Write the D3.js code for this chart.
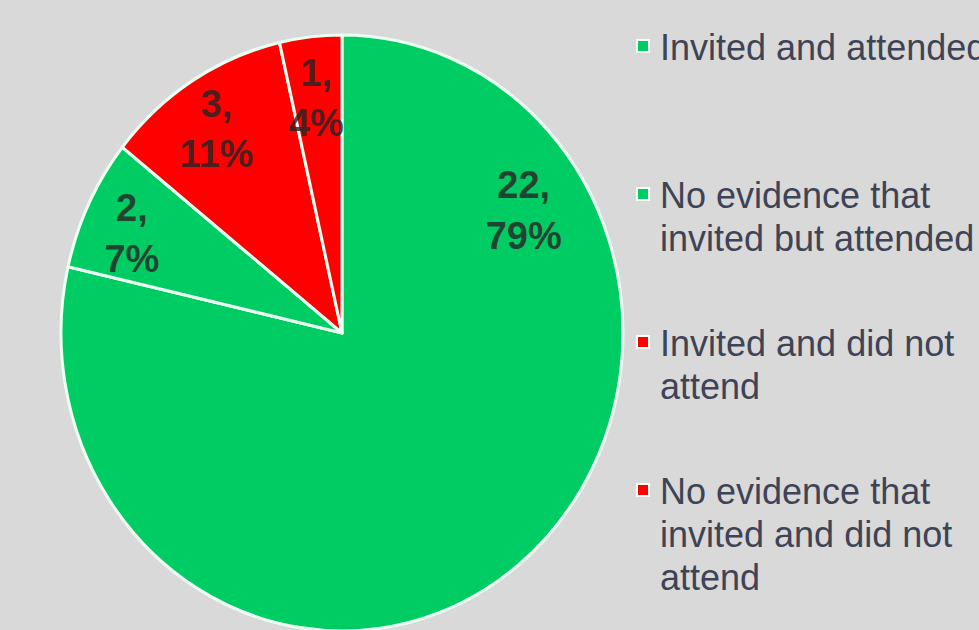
<!DOCTYPE html>
<html>
<head>
<meta charset="utf-8">
<script src="https://cdn.jsdelivr.net/npm/d3@7"></script>
<style>
    html, body { margin: 0; padding: 0; background: #d9d9d9; overflow: hidden; }
    svg { display: block; }
</style>
</head>
<body>
<div class="chart"></div>
<script>
// 数据
const categories = [
    'Invited and attended',
    'No evidence that invited but attended',
    'Invited and did not attend',
    'No evidence that invited and did not attend'
]
const values = [22, 2, 3, 1]
const percents = ['79%', '7%', '11%', '4%']
// 图例换行
const legendLines = [
    ['Invited and attended'],
    ['No evidence that', 'invited but attended'],
    ['Invited and did not', 'attend'],
    ['No evidence that', 'invited and did not', 'attend']
]
const colors = ['#00cc64', '#00cc64', '#ff0000', '#ff0000']

const W = 979, H = 630
const cx = 342, cy = 333
const rx = 281, ry = 298 // 饼图被拉伸成椭圆

// 标签位置: 大扇区单独指定角度
const labelAt = [[56, 0.78], null, null, null]
const labelR = [0.78, 0.83, 0.84, 0.82]

const svg = d3.select('.chart')
    .append('svg')
    .attr('width', W)
    .attr('height', H)

svg.append('rect')
    .attr('width', W)
    .attr('height', H)
    .attr('fill', '#d9d9d9')

const pie = d3.pie().sort(null).value(d => d)
const arcs = pie(values)

const arc = d3.arc().innerRadius(0).outerRadius(rx)

const g = svg.append('g')
    .attr('transform', `translate(${cx}, ${cy}) scale(1, ${ry / rx})`)

g.selectAll('path')
    .data(arcs)
    .enter()
    .append('path')
    .attr('d', arc)
    .attr('fill', (d, i) => colors[i])
    .attr('stroke', '#eafff2')
    .attr('stroke-width', 3)
    .attr('stroke-linejoin', 'round')

// 注记
const labels = svg.append('g')
    .attr('transform', `translate(${cx}, ${cy})`)

arcs.forEach((d, i) => {
    let a = (d.startAngle + d.endAngle) / 2
    let k = labelR[i]
    if (labelAt[i]) {
        a = labelAt[i][0] * Math.PI / 180
        k = labelAt[i][1]
    }
    const x = Math.sin(a) * rx * k
    const y = -Math.cos(a) * ry * k
    const t = labels.append('text')
        .attr('x', x)
        .attr('y', y)
        .attr('text-anchor', 'middle')
        .attr('font-family', 'Liberation Sans, Arial, sans-serif')
        .attr('font-weight', 'bold')
        .attr('font-size', '38px')
        .attr('fill', '#262626')
        .attr('fill-opacity', 0.82)
    t.append('tspan').attr('x', x).attr('dy', '-0.12em').text(d.value + ',')
    t.append('tspan').attr('x', x).attr('dy', '1.33em').text(percents[i])
})

// 图例
const legend = svg.append('g')
    .attr('transform', 'translate(637, 0)')

legendLines.forEach((lines, i) => {
    const base = 60 + i * 148
    legend.append('rect')
        .attr('x', 0)
        .attr('y', base - 20)
        .attr('width', 12)
        .attr('height', 12)
        .attr('fill', colors[i])
        .attr('stroke', '#f4fff8')
        .attr('stroke-width', 2)
    const t = legend.append('text')
        .attr('x', 23)
        .attr('y', base)
        .attr('font-family', 'Liberation Sans, Arial, sans-serif')
        .attr('font-size', '36px')
        .attr('fill', '#3e4356')
    lines.forEach((s, j) => {
        t.append('tspan')
            .attr('x', 23)
            .attr('y', base + j * 43)
            .text(s)
    })
})
</script>
</body>
</html>
